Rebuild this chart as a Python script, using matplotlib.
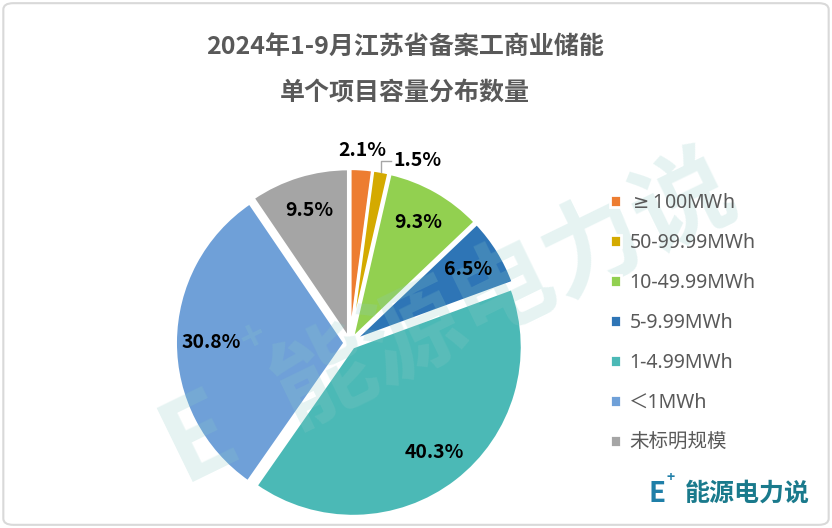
import numpy as np
import matplotlib
matplotlib.use("Agg")
import matplotlib.pyplot as plt
from matplotlib.patches import FancyBboxPatch

plt.rcParams['font.family'] = ['Noto Sans CJK SC', 'DejaVu Sans']

labels = [r'$\geq$100MWh', '50-99.99MWh', '10-49.99MWh', '5-9.99MWh', '1-4.99MWh', '＜1MWh', '未标明规模']
shares = [2.1, 1.5, 9.3, 6.5, 40.3, 30.8, 9.5]
colors = ['#ED7D31', '#D4AA00', '#92D050', '#2E75B6', '#4BB9B6', '#6FA0D8', '#A5A5A5']

fig = plt.figure(figsize=(8.32, 5.28), dpi=100)

# rounded outer frame
frame = FancyBboxPatch((0.004, 0.006), 0.992, 0.988, boxstyle="round,pad=0,rounding_size=0.012",
                       transform=fig.transFigure, fc='none', ec='#D9D9D9', lw=1.5, zorder=5)
fig.patches.append(frame)

fig.text(0.487, 0.91, '2024年1-9月江苏省备案工商业储能', ha='center', va='center',
         fontsize=18, fontweight='bold', color='#595959')
fig.text(0.487, 0.825, '单个项目容量分布数量', ha='center', va='center',
         fontsize=18, fontweight='bold', color='#595959')

ax = fig.add_axes([0.1935, -0.0076, 0.454, 0.716])
wedges, texts, autotexts = ax.pie(shares, colors=colors, startangle=90, counterclock=False, radius=0.985,
                                  explode=[0.03] * len(shares), autopct='%.1f%%', pctdistance=0.79,
                                  wedgeprops=dict(edgecolor='white', linewidth=2),
                                  textprops=dict(fontsize=14, fontweight='bold', color='black', zorder=4))
ax.set_xlim(-1.1, 1.1)
ax.set_ylim(-1.1, 1.1)

# small slices: labels outside
ang = np.cumsum([0] + shares)
mids = 90 - (ang[:-1] + ang[1:]) / 2 * 3.6
a0 = np.deg2rad(mids[0])
autotexts[0].set_position((1.125 * np.cos(a0), 1.125 * np.sin(a0)))
a1 = np.deg2rad(mids[1])
x1, y1 = 1.015 * np.cos(a1), 1.015 * np.sin(a1)
ax.plot([x1, x1, x1 + 0.06], [y1, 1.06, 1.06], color='#A6A6A6', lw=1, clip_on=False)
autotexts[1].set_position((x1 + 0.075, 1.06))
autotexts[1].set_ha('left')

leg = fig.legend(wedges, labels, loc='upper left', bbox_to_anchor=(0.712, 0.668), frameon=False,
                 prop=dict(family=['Noto Sans', 'Noto Sans CJK SC'], size=14),
                 handlelength=0.55, handleheight=0.55, handletextpad=0.45,
                 labelspacing=1.03, labelcolor='#595959')

# watermark, between the wedges and the labels
wm = dict(fontweight='bold', color='#8CCBC6', alpha=0.22, ha='center', va='center', zorder=2,
          transform=fig.transFigure, clip_on=False)
ax.text(0.606, 0.45, '能源电力说', fontsize=72, rotation=26, **wm)
ax.text(0.24, 0.17, 'E', fontsize=80, rotation=26, **wm)
ax.text(0.305, 0.36, '+', fontsize=30, rotation=26, **wm)

# logo bottom right
fig.text(0.79, 0.065, 'E', fontsize=20, fontweight='bold', color='#1F7FA8', ha='center', va='center')
fig.text(0.806, 0.095, '+', fontsize=10, fontweight='bold', color='#1F7FA8', ha='center', va='center')
fig.text(0.823, 0.065, '能源电力说', fontsize=18, fontweight='bold', color='#1A7A8C', ha='left', va='center')

fig.savefig('out.png', dpi=100)
